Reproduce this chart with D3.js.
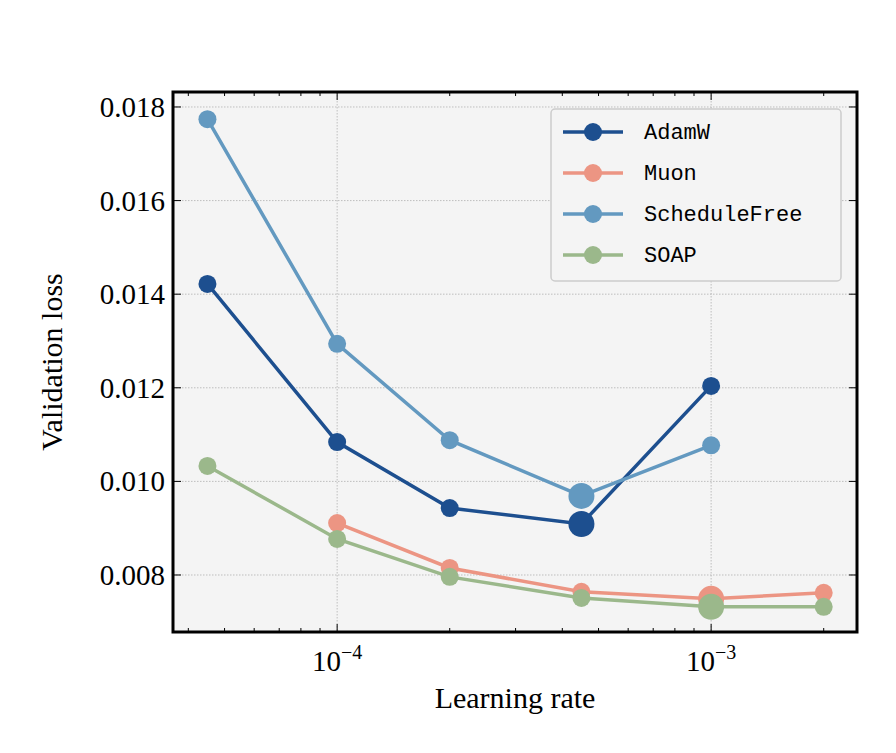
<!DOCTYPE html>
<html><head><meta charset="utf-8">
<script src="https://cdn.jsdelivr.net/npm/d3@7"></script>
<style>body{margin:0;background:#fff}text{font-family:"Liberation Serif","DejaVu Serif",serif}</style>
</head><body><svg id="c" width="896" height="753"></svg>
<script>
// data
const lrs = [4.5e-5, 1e-4, 2e-4, 4.5e-4, 1e-3, 2e-3];
const seriesNames = ["AdamW", "Muon", "ScheduleFree", "SOAP"];
const colors = ["#1d4f8f", "#ec9583", "#6399c0", "#9bb88b"];
const adamw = [0.01422, 0.01084, 0.00943, 0.00909, 0.01204, null];
const muon = [null, 0.00911, 0.00815, 0.00764, 0.00749, 0.00762];
const schedFree = [0.01774, 0.01294, 0.01088, 0.00969, 0.01077, null];
const soap = [0.01033, 0.00877, 0.00796, 0.00751, 0.00732, 0.00732];
const bestIdx = [3, 4, 3, 4]; // larger marker at best point
const yTicks = [0.008, 0.010, 0.012, 0.014, 0.016, 0.018];

const allSeries = [adamw, muon, schedFree, soap];
const svg = d3.select("#c");
const L = 173, R = 857, T = 92, B = 632;
const x = d3.scaleLog().domain([3.64e-5, 2.455e-3]).range([L, R]);
const y = d3.scaleLinear().domain([0.006782, 0.01832]).range([B, T]);

svg.append("rect").attr("x", L).attr("y", T).attr("width", R - L).attr("height", B - T).attr("fill", "#f4f4f4");

// grid
[1e-4, 1e-3].forEach(v => svg.append("line").attr("x1", x(v)).attr("x2", x(v)).attr("y1", T).attr("y2", B)
  .attr("stroke", "#b0b0b0").attr("stroke-width", 0.8).attr("stroke-dasharray", "1.5,1.5"));
yTicks.forEach(v => svg.append("line").attr("x1", L).attr("x2", R).attr("y1", y(v)).attr("y2", y(v))
  .attr("stroke", "#b0b0b0").attr("stroke-width", 0.8).attr("stroke-dasharray", "1.5,1.5"));

// ticks (inward)
const minors = [];
for (let e = -5; e <= -3; e++) for (let m = 1; m <= 9; m++) {
  const v = m * Math.pow(10, e);
  if (v > 3.64e-5 && v < 2.455e-3) minors.push(v);
}
minors.forEach(v => {
  const major = (v === 1e-4 || v === 1e-3);
  const len = major ? 8 : 4;
  [[B, B - len], [T, T + len]].forEach(p => svg.append("line").attr("x1", x(v)).attr("x2", x(v))
    .attr("y1", p[0]).attr("y2", p[1]).attr("stroke", "#000").attr("stroke-width", 1));
});
yTicks.forEach(v => {
  [[L, L + 8], [R, R - 8]].forEach(p => svg.append("line").attr("x1", p[0]).attr("x2", p[1])
    .attr("y1", y(v)).attr("y2", y(v)).attr("stroke", "#000").attr("stroke-width", 1));
  svg.append("text").attr("x", L - 8).attr("y", y(v) + 10).attr("text-anchor", "end")
    .attr("font-size", 29).text(v.toFixed(3));
});
[[1e-4, "−4"], [1e-3, "−3"]].forEach(d => {
  const t = svg.append("text").attr("x", x(d[0])).attr("y", 671).attr("text-anchor", "middle").attr("font-size", 29);
  t.append("tspan").text("10");
  t.append("tspan").attr("dy", -12).attr("font-size", 20).text(d[1]);
});

svg.append("text").attr("x", (L + R) / 2).attr("y", 708).attr("text-anchor", "middle").attr("font-size", 30).text("Learning rate");
svg.append("text").attr("transform", `translate(62,${(T + B) / 2}) rotate(-90)`).attr("text-anchor", "middle")
  .attr("font-size", 30).text("Validation loss");

// lines + markers
allSeries.forEach((s, i) => {
  const pts = lrs.map((lr, j) => ({lr, v: s[j], j})).filter(d => d.v !== null);
  svg.append("path").datum(pts).attr("fill", "none").attr("stroke", colors[i]).attr("stroke-width", 3.5)
    .attr("d", d3.line().x(d => x(d.lr)).y(d => y(d.v)));
  svg.selectAll(null).data(pts).enter().append("circle")
    .attr("cx", d => x(d.lr)).attr("cy", d => y(d.v)).attr("r", d => d.j === bestIdx[i] ? 13 : 9)
    .attr("fill", colors[i]);
});

svg.append("rect").attr("x", L).attr("y", T).attr("width", R - L).attr("height", B - T)
  .attr("fill", "none").attr("stroke", "#000").attr("stroke-width", 3);

// legend
const lg = svg.append("g").attr("transform", "translate(551,109)");
lg.append("rect").attr("width", 290).attr("height", 172).attr("rx", 4).attr("fill", "#f4f4f4")
  .attr("stroke", "#cccccc").attr("stroke-width", 1.5);
seriesNames.forEach((n, i) => {
  const yy = 23 + i * 41;
  lg.append("line").attr("x1", 12).attr("x2", 72).attr("y1", yy).attr("y2", yy).attr("stroke", colors[i]).attr("stroke-width", 3.5);
  lg.append("circle").attr("cx", 42).attr("cy", yy).attr("r", 9).attr("fill", colors[i]);
  lg.append("text").attr("x", 93).attr("y", yy + 7).attr("font-size", 22)
    .style("font-family", "'Liberation Mono','DejaVu Sans Mono',monospace").text(n);
});
</script></body></html>
